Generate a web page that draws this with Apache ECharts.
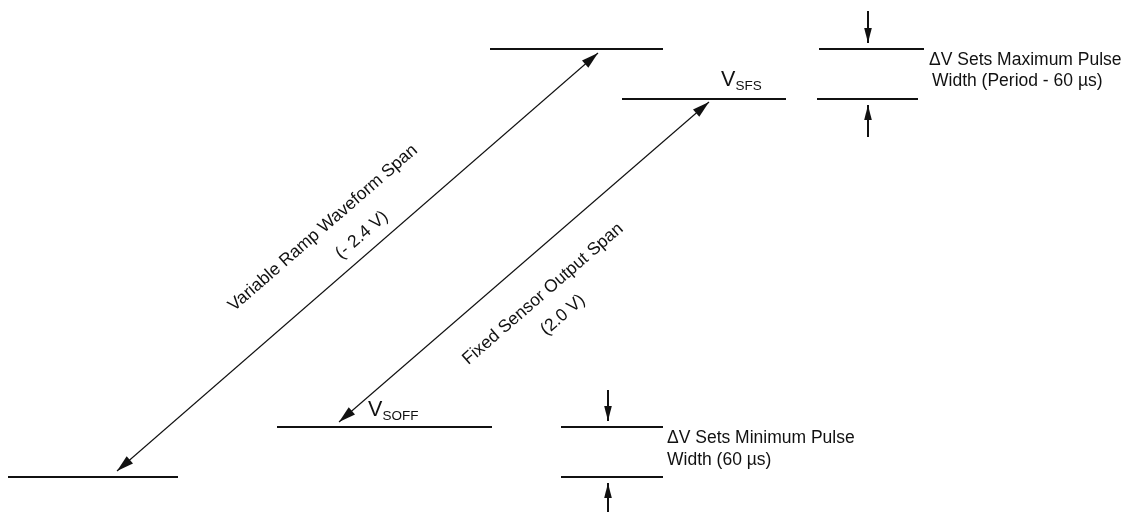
<!DOCTYPE html>
<html>
 <head>
  <title>Ramp / Sensor Span Diagram</title>
  <script src="https://cdn.jsdelivr.net/npm/echarts@6/dist/echarts.min.js"></script>
  <style>
    html, body {
    margin: 0;
    padding: 0;
    background: #fff;
    }
    #container {
    width: 1125px;
    height: 512px;
    }
  </style>
 </head>
  <body>
    <div id="container"></div>
    <script>
      // diagram extent (axis units)
      const spanW = 1125;
      const spanH = 512;

      // horizontal voltage levels
      const levelNames = ['Ramp peak', 'V_SFS', 'Max dV upper', 'Max dV lower', 'V_SOFF', 'Ramp floor', 'Min dV upper', 'Min dV lower'];
      const levelFrom = [490, 622, 819, 817, 277, 8, 561, 561];
      const levelTo = [663, 786, 924, 918, 492, 178, 663, 663];
      const levelAt = [49, 99, 49, 99, 427, 477, 427, 477];

      // double headed span arrows
      const spanNames = ['Variable ramp waveform span', 'Fixed sensor output span'];
      const spanFrom = [[117, 471], [339, 422]];
      const spanTo = [[598, 53], [709, 102]];

      // single headed delta V arrows (tail -> tip)
      const gapTail = [[868, 11], [868, 137], [608, 390], [608, 512]];
      const gapTip = [[868, 43], [868, 105], [608, 421], [608, 483]];

      // annotation text
      const noteText = ['Variable Ramp Waveform Span', '(- 2.4 V)', 'Fixed Sensor Output Span', '(2.0 V)',
        '\u0394V Sets Maximum Pulse', 'Width (Period - 60 \u00b5s)', '\u0394V Sets Minimum Pulse', 'Width (60 \u00b5s)'];
      const noteX = [323, 362, 543, 563, 929, 932, 667, 667];
      const noteY = [228, 235, 294, 315, 60, 81, 438, 460];
      const noteAngle = [41, 41, 41, 41, 0, 0, 0, 0];

      // level markers V with subscript
      const markBase = ['V', 'V'];
      const markSub = ['SFS', 'SOFF'];
      const markX = [721, 368];
      const markY = [80, 410];

      const FONT = '"Liberation Sans", Arial, sans-serif';
      const INK = '#111';

      function head(tip, from, len, half) {
        var dx = tip[0] - from[0], dy = tip[1] - from[1];
        var d = Math.sqrt(dx * dx + dy * dy);
        var ux = dx / d, uy = dy / d;
        var bx = tip[0] - ux * len, by = tip[1] - uy * len;
        return {
          type: 'polygon',
          shape: { points: [tip, [bx - uy * half, by + ux * half], [bx + uy * half, by - ux * half]] },
          style: { fill: INK }
        };
      }

      var chartDom = document.getElementById('container');
      var myChart = echarts.init(chartDom);
      var option;

      option = {
        animation: false,
        backgroundColor: '#fff',
        grid: { left: 0, right: 0, top: 0, bottom: 0 },
        xAxis: { type: 'value', min: 0, max: spanW, show: false },
        yAxis: { type: 'value', min: 0, max: spanH, inverse: true, show: false },
        series: [
          {
            name: 'levels',
            type: 'custom',
            clip: false,
            data: levelFrom.map(function (x0, i) { return [x0, levelAt[i], levelTo[i]]; }),
            renderItem: function (params, api) {
              var a = api.coord([api.value(0), api.value(1)]);
              var b = api.coord([api.value(2), api.value(1)]);
              return {
                type: 'line',
                shape: { x1: a[0], y1: a[1], x2: b[0], y2: b[1] },
                style: { stroke: INK, lineWidth: 2 }
              };
            }
          },
          {
            name: 'spans',
            type: 'custom',
            clip: false,
            data: spanFrom.map(function (p, i) { return [p[0], p[1], spanTo[i][0], spanTo[i][1]]; }),
            renderItem: function (params, api) {
              var a = api.coord([api.value(0), api.value(1)]);
              var b = api.coord([api.value(2), api.value(3)]);
              return {
                type: 'group',
                children: [
                  { type: 'line', shape: { x1: a[0], y1: a[1], x2: b[0], y2: b[1] }, style: { stroke: INK, lineWidth: 1.1 } },
                  head(a, b, 17, 4.8),
                  head(b, a, 17, 4.8)
                ]
              };
            }
          },
          {
            name: 'gaps',
            type: 'custom',
            clip: false,
            data: gapTail.map(function (p, i) { return [p[0], p[1], gapTip[i][0], gapTip[i][1]]; }),
            renderItem: function (params, api) {
              var a = api.coord([api.value(0), api.value(1)]);
              var b = api.coord([api.value(2), api.value(3)]);
              return {
                type: 'group',
                children: [
                  { type: 'line', shape: { x1: a[0], y1: a[1], x2: b[0], y2: b[1] }, style: { stroke: INK, lineWidth: 2 } },
                  head(b, a, 15, 3.8)
                ]
              };
            }
          },
          {
            name: 'notes',
            type: 'custom',
            clip: false,
            data: noteX.map(function (x, i) { return [x, noteY[i]]; }),
            renderItem: function (params, api) {
              var i = params.dataIndex;
              var p = api.coord([api.value(0), api.value(1)]);
              return {
                type: 'text',
                x: p[0],
                y: p[1],
                rotation: noteAngle[i] * Math.PI / 180,
                style: {
                  text: noteText[i],
                  fill: INK,
                  font: '17.5px ' + FONT,
                  align: noteAngle[i] ? 'center' : 'left',
                  verticalAlign: 'middle'
                }
              };
            }
          },
          {
            name: 'markers',
            type: 'custom',
            clip: false,
            data: markX.map(function (x, i) { return [x, markY[i]]; }),
            renderItem: function (params, api) {
              var i = params.dataIndex;
              var p = api.coord([api.value(0), api.value(1)]);
              return {
                type: 'group',
                children: [
                  { type: 'text', x: p[0], y: p[1], style: { text: markBase[i], fill: INK, font: '21.5px ' + FONT, align: 'left', verticalAlign: 'middle' } },
                  { type: 'text', x: p[0] + 14.5, y: p[1] + 6.5, style: { text: markSub[i], fill: INK, font: '13.5px ' + FONT, align: 'left', verticalAlign: 'middle' } }
                ]
              };
            }
          }
        ]
      };

      option && myChart.setOption(option);
    </script>
  </body>
</html>
